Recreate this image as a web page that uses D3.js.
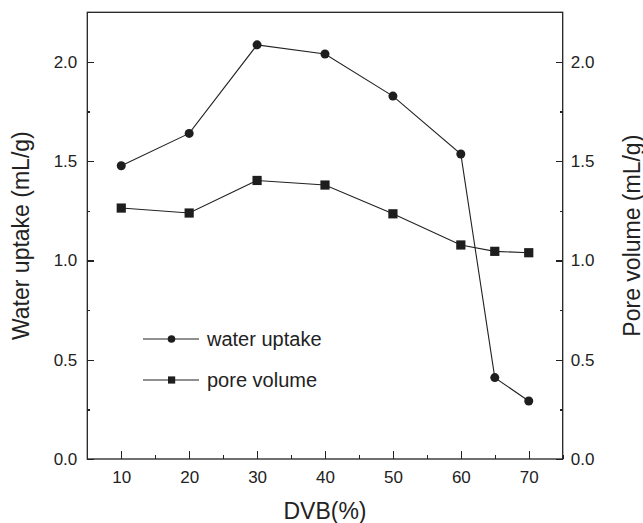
<!DOCTYPE html>
<meta charset="utf-8">
<style>
body{margin:0;background:#fff;}
svg text{font-family:"Liberation Sans",Arial,sans-serif;fill:#222;}
.axis path,.axis line{stroke:#222;stroke-width:1.3;shape-rendering:crispEdges;}
</style>
<svg width="643" height="523"></svg>
<script src="https://cdn.jsdelivr.net/npm/d3@7"></script>
<script>

var dvb = [10, 20, 30, 40, 50, 60, 65, 70];
var waterUptake = [1.477, 1.640, 2.086, 2.040, 1.828, 1.536, 0.41, 0.292];
var poreVolume = [1.264, 1.239, 1.403, 1.380, 1.235, 1.078, 1.046, 1.039];
var xTicks = [10, 20, 30, 40, 50, 60, 70];
var yTicks = [0.0, 0.5, 1.0, 1.5, 2.0];

var svg = d3.select("svg"),
    margin = {top: 12.3, right: 80.3, bottom: 64, left: 87.3},
    width = 643 - margin.left - margin.right,
    height = 523 - margin.top - margin.bottom;

var x = d3.scaleLinear().domain([5, 75]).range([0, width]),
    y = d3.scaleLinear().domain([0, 2.25]).range([height, 0]);

var g = svg.append("g")
    .attr("transform", "translate(" + margin.left + "," + margin.top + ")");

// minor ticks first, then major ones with labels
function minor(axis, vals, len) {
  return axis.tickValues(vals).tickSize(len).tickFormat("");
}
var xMinor = d3.range(15, 76, 10), yMinor = d3.range(0.25, 2.3, 0.5);

g.append("g").attr("class", "axis").attr("transform", "translate(0," + height + ")")
  .call(minor(d3.axisTop(x), xMinor, 4)).select(".domain").remove();
g.append("g").attr("class", "axis")
  .call(minor(d3.axisRight(y), yMinor, 3)).select(".domain").remove();
g.append("g").attr("class", "axis").attr("transform", "translate(" + width + ",0)")
  .call(minor(d3.axisLeft(y), yMinor, 3)).select(".domain").remove();

var xAxis = g.append("g").attr("class", "axis").attr("transform", "translate(0," + height + ")")
  .call(d3.axisTop(x).tickValues(xTicks).tickSize(8).tickFormat(d3.format("d")));
xAxis.selectAll("text").attr("y", 24).attr("dy", "0").style("font-size", "17px");
xAxis.select(".domain").remove();

var yLeft = g.append("g").attr("class", "axis")
  .call(d3.axisRight(y).tickValues(yTicks).tickSize(7).tickFormat(d3.format(".1f")));
yLeft.selectAll("text").attr("x", -10).attr("text-anchor", "end").style("font-size", "17px");
yLeft.select(".domain").remove();

var yRight = g.append("g").attr("class", "axis").attr("transform", "translate(" + width + ",0)")
  .call(d3.axisLeft(y).tickValues(yTicks).tickSize(7).tickFormat(d3.format(".1f")));
yRight.selectAll("text").attr("x", 8).attr("text-anchor", "start").style("font-size", "17px");
yRight.select(".domain").remove();

// frame
g.append("rect").attr("width", width).attr("height", height)
  .attr("fill", "none").attr("stroke", "#222").attr("stroke-width", 1.3);

var line = d3.line().x(function(d){ return x(d[0]); }).y(function(d){ return y(d[1]); });
var wData = dvb.map(function(v, i){ return [v, waterUptake[i]]; });
var pData = dvb.map(function(v, i){ return [v, poreVolume[i]]; });

g.append("path").datum(pData).attr("d", line).attr("fill", "none").attr("stroke", "#222").attr("stroke-width", 1.1);
g.append("path").datum(wData).attr("d", line).attr("fill", "none").attr("stroke", "#222").attr("stroke-width", 1.1);

g.selectAll(".sq").data(pData).enter().append("rect")
  .attr("x", function(d){ return x(d[0]) - 4.6; })
  .attr("y", function(d){ return y(d[1]) - 4.6; })
  .attr("width", 9.2).attr("height", 9.2).attr("fill", "#1e1e1e");
g.selectAll(".dot").data(wData).enter().append("circle")
  .attr("cx", function(d){ return x(d[0]); })
  .attr("cy", function(d){ return y(d[1]); })
  .attr("r", 4.5).attr("fill", "#1e1e1e");

// legend
var lg = svg.append("g");
[["water uptake", 339, "c"], ["pore volume", 380, "s"]].forEach(function(it){
  lg.append("line").attr("x1", 143).attr("x2", 199).attr("y1", it[1]).attr("y2", it[1])
    .attr("stroke", "#222").attr("stroke-width", 1.1);
  if (it[2] == "c") lg.append("circle").attr("cx", 171.5).attr("cy", it[1]).attr("r", 3.8).attr("fill", "#1e1e1e");
  else lg.append("rect").attr("x", 168).attr("y", it[1] - 3.6).attr("width", 7.2).attr("height", 7.2).attr("fill", "#1e1e1e");
  lg.append("text").attr("x", 207).attr("y", it[1] + 7).style("font-size", "20px").text(it[0]);
});

// axis titles
svg.append("text").attr("x", margin.left + width / 2).attr("y", 519).attr("text-anchor", "middle")
  .style("font-size", "23px").text("DVB(%)");
svg.append("text").attr("transform", "translate(29," + (margin.top + height / 2) + ") rotate(-90)")
  .attr("text-anchor", "middle").style("font-size", "23px").text("Water uptake (mL/g)");
svg.append("text").attr("transform", "translate(639.5," + (margin.top + height / 2) + ") rotate(-90)")
  .attr("text-anchor", "middle").style("font-size", "23px").text("Pore volume (mL/g)");

</script>
